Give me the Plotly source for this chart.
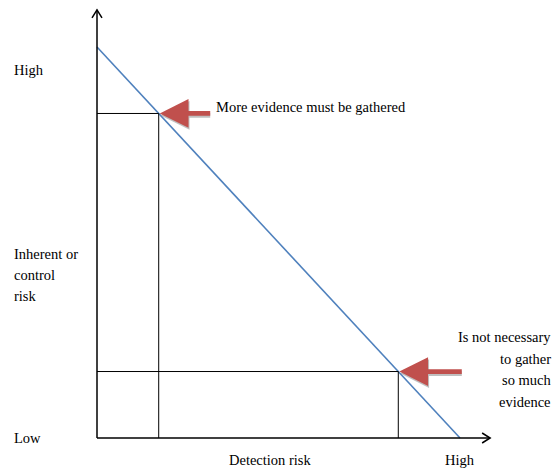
import plotly.graph_objects as go

# Data (normalised risk scale 0..10)
line_x = [0, 10]          # detection risk
line_y = [10, 0]          # inherent or control risk
points_x = [1.7, 8.3]
points_y = [8.3, 1.7]
x_axis_end = 10.83
y_axis_end = 10.95

# pixel scale helpers (1 unit in px)
SX, SY = 36.3, 39.1
X0, Y0 = 97, 438
W, H = 554, 468

def px(xp):
    return (xp - X0) / SX

def py(yp):
    return (Y0 - yp) / SY

fig = go.Figure()

# risk line
fig.add_trace(go.Scatter(x=line_x, y=line_y, mode="lines",
                         line=dict(color="#4F81BD", width=1.6),
                         hoverinfo="skip", showlegend=False))

shapes = []
# axes
shapes.append(dict(type="line", x0=0, y0=0, x1=x_axis_end, y1=0,
                   line=dict(color="black", width=1.5)))
shapes.append(dict(type="line", x0=0, y0=0, x1=0, y1=y_axis_end,
                   line=dict(color="black", width=1.5)))
# chevrons
ax_ = 5 / SX
ay_ = 8 / SY
shapes.append(dict(type="path",
                   path=f"M {-ax_} {y_axis_end-ay_} L 0 {y_axis_end} L {ax_} {y_axis_end-ay_}",
                   line=dict(color="black", width=1.5)))
bx_ = 8 / SX
by_ = 5 / SY
shapes.append(dict(type="path",
                   path=f"M {x_axis_end-bx_} {by_} L {x_axis_end} 0 L {x_axis_end-bx_} {-by_}",
                   line=dict(color="black", width=1.5)))
# guide lines
for xv, yv in zip(points_x, points_y):
    shapes.append(dict(type="line", x0=0, y0=yv, x1=xv, y1=yv,
                       line=dict(color="black", width=1)))
    shapes.append(dict(type="line", x0=xv, y0=0, x1=xv, y1=yv,
                       line=dict(color="black", width=1)))

font = dict(family="Liberation Serif, Times New Roman, serif", size=14.5, color="black")

ann = []
arrow_tails = [53, 65]
for xv, yv, tail in zip(points_x, points_y, arrow_tails):
    # shadow
    ann.append(dict(x=xv, y=yv - 2 / SY, xref="x", yref="y", ax=tail, ay=0,
                    text="", showarrow=True, arrowhead=2, arrowsize=1.2,
                    arrowwidth=4.8, arrowcolor="rgba(150,150,150,0.6)", standoff=2))
    ann.append(dict(x=xv, y=yv, xref="x", yref="y", ax=tail, ay=0,
                    text="", showarrow=True, arrowhead=2, arrowsize=1.2,
                    arrowwidth=4.8, arrowcolor="#C0504D", standoff=1))

def txt(x, y, t, xanchor="left", align="left"):
    ann.append(dict(x=px(x), y=py(y), xref="x", yref="y", text=t, showarrow=False,
                    xanchor=xanchor, yanchor="middle", align=align, font=font))

txt(214, 107, "More evidence must be gathered")
txt(12, 70, "High")
for i, t in enumerate(["Inherent or", "control", "risk"]):
    txt(12, 254 + 21 * i, t)
txt(12, 438, "Low")
txt(270, 460, "Detection risk", xanchor="center")
txt(443, 460, "High")
for i, t in enumerate(["Is not necessary", "to gather", "so much", "evidence"]):
    txt(553, 337 + 21.5 * i, t, xanchor="right", align="right")

fig.update_layout(
    width=W, height=H,
    margin=dict(l=0, r=0, t=0, b=0),
    paper_bgcolor="white", plot_bgcolor="white",
    xaxis=dict(range=[px(0), px(W)], visible=False, fixedrange=True),
    yaxis=dict(range=[py(H), py(0)], visible=False, fixedrange=True),
    shapes=shapes, annotations=ann, showlegend=False,
)

fig.write_html("out.html", config={"displayModeBar": False},
               post_script="document.body.style.margin='0';document.body.style.padding='0';")
